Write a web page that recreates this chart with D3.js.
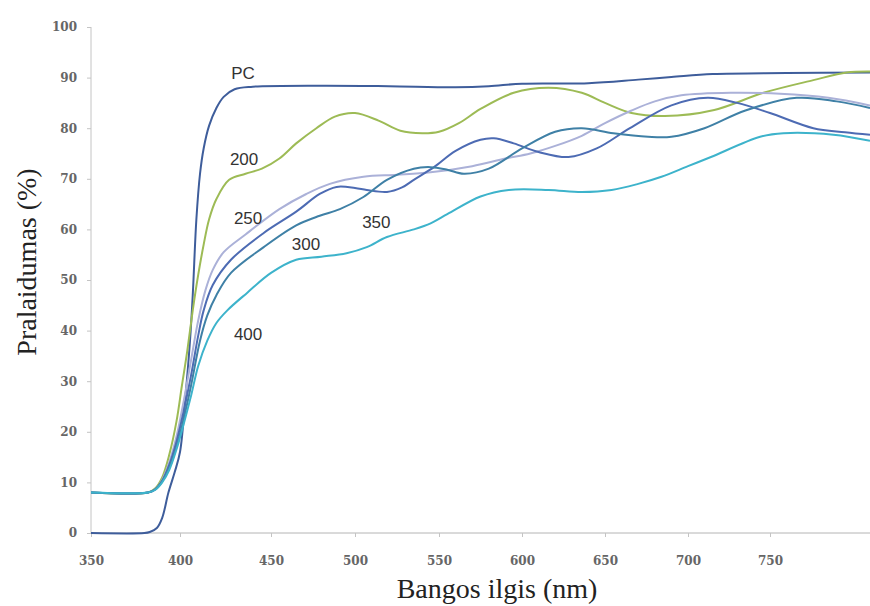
<!DOCTYPE html>
<html>
<head>
<meta charset="utf-8">
<script src="https://cdn.jsdelivr.net/npm/d3@7"></script>
<style>
  body { margin: 0; background: #fff; }
  .tick text { font-family: "DejaVu Serif", serif; font-weight: bold; font-size: 12px; fill: #666; }
  .axis-title { font-family: "Liberation Serif", "Times New Roman", serif; font-size: 28px; fill: #222; }
  .series-label { font-family: "Liberation Sans", Arial, sans-serif; font-size: 17px; fill: #333; }
</style>
</head>
<body>
<div id="chart"></div>
<script>
// wavelength ticks (nm) and transmittance ticks (%)
const xTicks = [350, 400, 450, 500, 550, 600, 650, 700, 750];
const yTicks = [0, 10, 20, 30, 40, 50, 60, 70, 80, 90, 100];

// [nm, %]
const pc = [[350,0],[380,0],[383,0.2],[387,1],[390,3],[393.5,8],[397,12],[400,16],[403,27],[405.5,38],[407,47],[409,62],[411,71],[413,76],[416,80.5],[420,84],[424,86.2],[430,87.7],[440,88.2],[480,88.4],[520,88.3],[560,88.1],[580,88.3],[600,88.8],[640,88.9],[670,89.6],[690,90.1],[715,90.7],[760,90.9],[810,91]];
const s200 = [[350,8],[382,8],[386,8.8],[390,11],[394,15.5],[398,22],[401,29],[404,36],[407,44],[410,51],[413,57],[416,62],[420,66],[427,69.8],[436,71],[445,72],[455,74],[465,77],[477,80],[488,82.3],[500,83],[514,81.5],[527,79.5],[540,79],[550,79.3],[562,81],[575,83.8],[595,87],[616,88],[636,87],[650,85],[666,83],[686,82.4],[716,83.6],[746,87],[776,89.5],[796,91],[810,91.2]];
const s250 = [[350,8],[382,8],[386,8.6],[390,10.5],[394,14],[398,19],[402,26],[406,34],[410,42],[414,48],[418,52],[424,55.5],[436,59],[455,64],[471,67],[485,69],[505,70.4],[525,70.8],[545,71.3],[570,72.5],[590,74],[605,75],[620,76.5],[636,78.5],[650,81],[666,83.5],[680,85.3],[696,86.5],[726,87],[756,86.8],[785,86],[810,84.5]];
const s300 = [[350,8],[382,8],[386,8.6],[390,10.3],[394,13.5],[398,18],[402,24],[406,31],[410,39],[413,44],[418,49],[428,54],[446,59.3],[465,63.5],[479,67],[489,68.4],[500,68.2],[507,67.8],[519,67.4],[528,68.3],[535,69.8],[547,72.3],[560,75.5],[575,77.7],[583,78],[595,77],[610,75.3],[628,74.3],[645,76],[665,80],[690,84.5],[712,86],[730,85],[750,83],[776,80],[795,79.2],[810,78.7]];
const s350 = [[350,8],[382,8],[386,8.6],[390,10.2],[394,13],[398,17],[402,22.5],[406,29],[411,38],[415,43],[420,47],[428,51.4],[446,56.5],[465,60.8],[479,62.7],[491,64],[505,66.4],[519,69.8],[535,72],[545,72.3],[555,71.8],[565,71],[580,72],[600,76],[620,79.3],[636,80],[655,79],[676,78.3],[690,78.3],[710,80],[735,83.5],[766,86],[790,85.3],[810,84]];
const s400 = [[350,8],[382,8],[386,8.5],[390,10],[394,12.5],[398,16.5],[402,21.5],[406,27],[410,33],[415,38],[420,41.5],[426,44],[437,47.5],[450,51.4],[465,54],[480,54.6],[495,55.3],[507,56.5],[519,58.5],[535,60],[545,61.2],[555,63],[575,66.5],[592,67.8],[616,67.8],[636,67.4],[654,67.8],[670,69],[684,70.4],[700,72.5],[714,74.3],[744,78.3],[758,79],[788,78.7],[810,77.5]];

const seriesNames = ['PC', '200', '250', '300', '350', '400'];
const seriesData = [pc, s200, s250, s300, s350, s400];
const seriesColors = ['#3e5d9b', '#9dbb55', '#abb1d8', '#4d6bb3', '#3f80a6', '#3db3cb'];
// where each curve name sits, [nm, %]
const labelAt = [[434.6, 90.9], [435.2, 73.9], [437.4, 62.1], [470.8, 57.1], [512.7, 61.3], [437.4, 39.3]];

const width = 870, height = 606;

const svg = d3.select('#chart').append('svg')
    .attr('width', width)
    .attr('height', height);

// the source figure's x axis is unevenly stretched, so map it piece by piece
const x = d3.scaleLinear()
    .domain([350, 400, 450, 500, 550, 600, 650, 700, 750, 810])
    .range([91, 180, 271, 355, 439, 522, 605, 688, 770, 870]);
const y = d3.scaleLinear().domain([0, 100]).range([533, 27]);

svg.append('defs').append('clipPath').attr('id', 'plot')
    .append('rect').attr('x', 91).attr('y', 0).attr('width', 779).attr('height', 540);

// axes
const yAxis = svg.append('g')
    .attr('transform', 'translate(91,0)')
    .call(d3.axisLeft(y).tickValues(yTicks).tickSize(4).tickPadding(10));
yAxis.select('.domain').attr('stroke', '#c4c4c4').attr('d', 'M0,' + y(100) + 'V' + y(0));
yAxis.selectAll('.tick line').attr('stroke', '#c4c4c4');

const xAxis = svg.append('g')
    .attr('transform', 'translate(0,533)')
    .call(d3.axisBottom(x).tickValues(xTicks).tickSize(4).tickPadding(19));
xAxis.select('.domain').attr('stroke', '#b4b4b4').attr('d', 'M91,0H870');
xAxis.selectAll('.tick line').attr('stroke', '#c4c4c4');

// curves
const line = d3.line()
    .x(d => x(d[0]))
    .y(d => y(d[1]))
    .curve(d3.curveCatmullRom.alpha(0.5));

svg.append('g').attr('clip-path', 'url(#plot)')
    .selectAll('path')
    .data(seriesData)
    .enter().append('path')
    .attr('d', line)
    .attr('fill', 'none')
    .attr('stroke', (d, i) => seriesColors[i])
    .attr('stroke-width', 2);

svg.selectAll('text.series-label')
    .data(seriesNames)
    .enter().append('text')
    .attr('class', 'series-label')
    .attr('x', (d, i) => x(labelAt[i][0]))
    .attr('y', (d, i) => y(labelAt[i][1]))
    .attr('text-anchor', 'middle')
    .attr('dominant-baseline', 'central')
    .text(d => d);

// titles
svg.append('text')
    .attr('class', 'axis-title')
    .attr('x', 497).attr('y', 598)
    .attr('text-anchor', 'middle')
    .text('Bangos ilgis (nm)');

svg.append('text')
    .attr('class', 'axis-title')
    .attr('transform', 'translate(36,262) rotate(-90)')
    .attr('text-anchor', 'middle')
    .text('Pralaidumas (%)');
</script>
</body>
</html>
